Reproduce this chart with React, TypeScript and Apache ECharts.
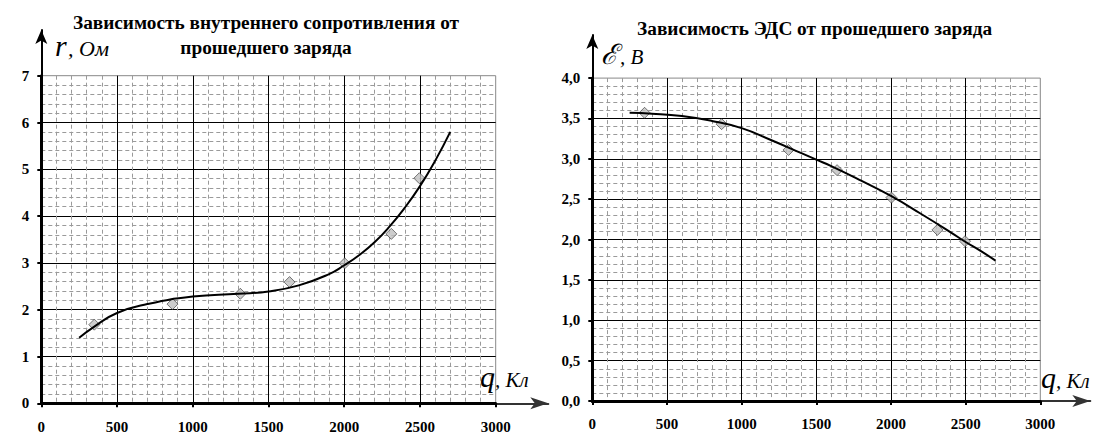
import React, { useEffect, useRef } from "react";
import * as echarts from "echarts";

// Measured charge values (q, Кл) shared by both experiments
const chargeQ = [350, 866, 1314, 1639, 2003, 2311, 2496];
// Internal resistance measurements (r, Ом)
const resistanceR = [1.68, 2.12, 2.34, 2.59, 2.99, 3.62, 4.81];
// EMF measurements (ℰ, В)
const emfE = [3.57, 3.43, 3.11, 2.86, 2.52, 2.12, 1.98];

// Trend curve
const rTrendQ = [250, 350, 500, 700, 1000, 1300, 1500, 1700, 1900, 2000, 2100, 2200, 2300, 2400, 2500, 2600, 2700];
const rTrendR = [1.4, 1.64, 1.93, 2.12, 2.28, 2.34, 2.39, 2.52, 2.76, 2.95, 3.17, 3.44, 3.78, 4.18, 4.64, 5.18, 5.8];

// Trend curve
const eTrendQ = [250, 400, 600, 800, 1000, 1200, 1400, 1500, 1600, 1800, 2000, 2200, 2400, 2500, 2600, 2700];
const eTrendE = [3.57, 3.56, 3.53, 3.47, 3.38, 3.23, 3.07, 2.99, 2.91, 2.73, 2.54, 2.32, 2.09, 1.97, 1.86, 1.74];

const leftTitle = ["Зависимость внутреннего сопротивления от", "прошедшего заряда"];
const rightTitle = "Зависимость ЭДС от прошедшего заряда";

const Q_MAX = 3000;
const Q_STEP = 500;
const R_MAX = 7;
const R_STEP = 1;
const E_MAX = 4;
const E_STEP = 0.5;

const serif = "Liberation Serif";

function mainX(gridIndex: number, margin: number) {
  return {
    gridIndex,
    type: "value",
    min: 0,
    max: Q_MAX,
    interval: Q_STEP,
    z: 3,
    axisLine: { show: true, onZero: false, lineStyle: { color: "#000", width: 3 } },
    axisTick: { show: true, length: 4, lineStyle: { color: "#000", width: 2 } },
    axisLabel: {
      margin,
      fontFamily: serif,
      fontWeight: "bold",
      fontSize: 15,
      color: "#000",
      formatter: (v: number) => String(v),
      showMinLabel: true,
      showMaxLabel: true,
    },
    splitLine: { show: true, showMinLine: false, showMaxLine: false, lineStyle: { color: "#000", width: 1 } },
    minorTick: { show: false, splitNumber: 5 },
    minorSplitLine: { show: true, lineStyle: { color: "#9a9a9a", width: 1, type: [4, 3] } },
  };
}

function mainY(gridIndex: number, max: number, step: number, fmt: (v: number) => string) {
  return {
    gridIndex,
    type: "value",
    min: 0,
    max,
    interval: step,
    z: 3,
    axisLine: { show: true, onZero: false, lineStyle: { color: "#000", width: 3 } },
    axisTick: { show: true, length: 4, lineStyle: { color: "#000", width: 2 } },
    axisLabel: {
      margin: 12,
      fontFamily: serif,
      fontWeight: "bold",
      fontSize: 15,
      color: "#000",
      formatter: fmt,
      showMinLabel: true,
      showMaxLabel: true,
    },
    splitLine: { show: true, showMinLine: false, showMaxLine: false, lineStyle: { color: "#000", width: 1 } },
    minorTick: { show: false, splitNumber: 5 },
    minorSplitLine: { show: true, lineStyle: { color: "#9a9a9a", width: 1, type: [4, 3] } },
  };
}

function arrowAxis(gridIndex: number, size: number[], color: string) {
  return {
    gridIndex,
    type: "value",
    min: 0,
    max: 1,
    z: 1,
    axisLine: {
      show: true,
      onZero: false,
      symbol: ["none", "arrow"],
      symbolSize: size,
      lineStyle: { color, width: 2 },
    },
    axisTick: { show: false },
    axisLabel: { show: false },
    splitLine: { show: false },
    minorSplitLine: { show: false },
  };
}

function text(x: number, y: number, t: string, size: number, weight: string, style: string, align = "left") {
  return {
    type: "text",
    x,
    y,
    z: 10,
    style: {
      text: t,
      font: `${style} ${weight} ${size}px ${serif}`,
      fill: "#000",
      textAlign: align,
      textVerticalAlign: "middle",
      verticalAlign: "middle",
    },
  };
}

export default function App() {
  const ref = useRef<HTMLDivElement>(null);

  useEffect(() => {
    if (!ref.current) return;
    const chart = echarts.init(ref.current, undefined, { renderer: "svg" });

    const markerStyle = { color: "#c0c0c0", borderColor: "#333", borderWidth: 0.8 };

    const option: any = {
      animation: false,
      backgroundColor: "#fff",
      grid: [
        { left: 41.3, top: 75.7, width: 454.4, height: 327.6, show: true, borderColor: "#888", borderWidth: 1, backgroundColor: "transparent" },
        { left: 592.3, top: 78.1, width: 448, height: 323, show: true, borderColor: "#888", borderWidth: 1, backgroundColor: "transparent" },
        { left: 41.3, top: 30, width: 507, height: 373.3, show: false },
        { left: 592.3, top: 35, width: 498, height: 366.1, show: false },
      ],
      xAxis: [
        mainX(0, 16),
        mainX(1, 15),
        arrowAxis(2, [9, 18], "#333"),
        arrowAxis(3, [9, 18], "#333"),
      ],
      yAxis: [
        mainY(0, R_MAX, R_STEP, (v: number) => String(v)),
        mainY(1, E_MAX, E_STEP, (v: number) => v.toFixed(1).replace(".", ",")),
        arrowAxis(2, [9, 14], "#000"),
        arrowAxis(3, [9, 14], "#000"),
      ],
      series: [
        {
          type: "scatter",
          xAxisIndex: 0,
          yAxisIndex: 0,
          symbol: "diamond",
          symbolSize: 11,
          itemStyle: markerStyle,
          z: 4,
          data: chargeQ.map((q, i) => [q, resistanceR[i]]),
        },
        {
          type: "line",
          xAxisIndex: 0,
          yAxisIndex: 0,
          smooth: true,
          showSymbol: false,
          symbol: "none",
          lineStyle: { color: "#000", width: 2 },
          z: 5,
          data: rTrendQ.map((q, i) => [q, rTrendR[i]]),
        },
        {
          type: "scatter",
          xAxisIndex: 1,
          yAxisIndex: 1,
          symbol: "diamond",
          symbolSize: 11,
          itemStyle: markerStyle,
          z: 4,
          data: chargeQ.map((q, i) => [q, emfE[i]]),
        },
        {
          type: "line",
          xAxisIndex: 1,
          yAxisIndex: 1,
          smooth: true,
          showSymbol: false,
          symbol: "none",
          lineStyle: { color: "#000", width: 2 },
          z: 5,
          data: eTrendQ.map((q, i) => [q, eTrendE[i]]),
        },
      ],
      graphic: [
        text(266, 22.7, leftTitle[0], 19.3, "bold", "normal", "center"),
        text(266, 47.7, leftTitle[1], 19.3, "bold", "normal", "center"),
        text(814.6, 28.3, rightTitle, 19.3, "bold", "normal", "center"),
        // left axis names
        text(55, 45.8, "r", 30, "normal", "italic"),
        text(68, 48.5, ", Ом", 22, "normal", "italic"),
        text(480, 376.5, "q", 30, "normal", "italic"),
        text(495, 379.6, ", Кл", 21, "normal", "italic"),
        // right axis names
        text(601, 54.8, "ℰ", 28, "normal", "italic"),
        text(620, 57.2, ", В", 21, "normal", "italic"),
        text(1041, 377.8, "q", 30, "normal", "italic"),
        text(1056, 380.9, ", Кл", 21, "normal", "italic"),
      ],
    };

    chart.setOption(option);
    return () => chart.dispose();
  }, []);

  return (
    <div
      ref={ref}
      style={{ position: "absolute", left: 0, top: 0, width: 1105, height: 441, background: "#fff" }}
    />
  );
}
